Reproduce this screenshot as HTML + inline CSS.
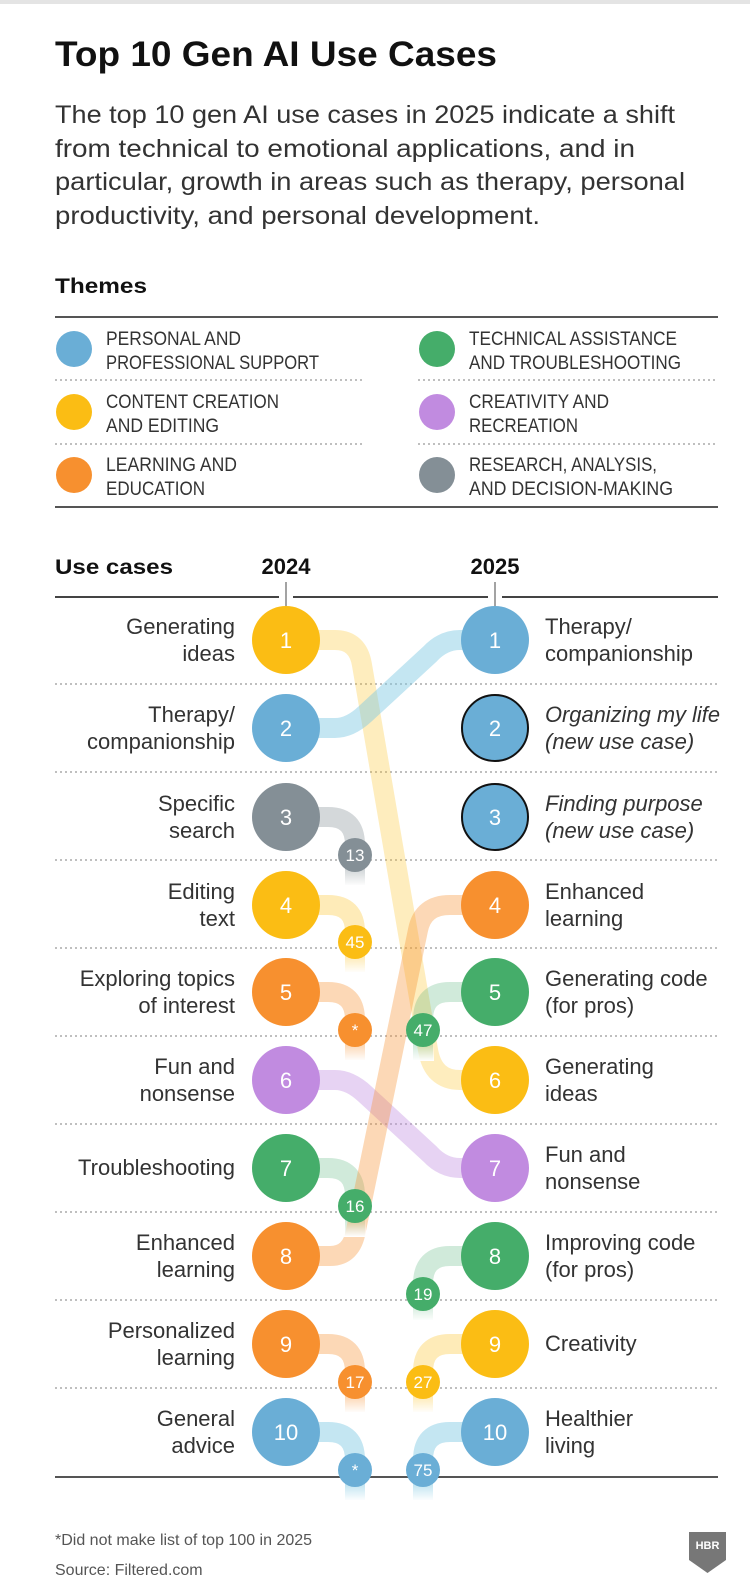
<!DOCTYPE html>
<html><head><meta charset="utf-8"><style>
html,body{margin:0;padding:0;background:#fff;}
svg{display:block;}
text{font-family:"Liberation Sans",sans-serif;}
.lg{font-size:19px;fill:#333;}
.lab{font-size:22px;fill:#333;}
.n{font-size:22px;fill:#fff;text-anchor:middle;}
.s{font-size:17px;fill:#fff;text-anchor:middle;}
</style></head><body>
<svg width="750" height="1582" viewBox="0 0 750 1582" xmlns="http://www.w3.org/2000/svg">
<defs>
<linearGradient id="fade" x1="0" y1="0" x2="0" y2="1"><stop offset="0" stop-color="#fff" stop-opacity="0"/><stop offset="1" stop-color="#fff" stop-opacity="1"/></linearGradient>
</defs>
<rect x="0" y="0" width="750" height="4" fill="#e4e4e4"/>
<text x="55" y="66" font-size="35" font-weight="bold" fill="#111" textLength="442" lengthAdjust="spacingAndGlyphs">Top 10 Gen AI Use Cases</text>
<g font-size="25" fill="#333">
<text x="55" y="123" textLength="620" lengthAdjust="spacingAndGlyphs">The top 10 gen AI use cases in 2025 indicate a shift</text>
<text x="55" y="157" textLength="580" lengthAdjust="spacingAndGlyphs">from technical to emotional applications, and in</text>
<text x="55" y="190" textLength="630" lengthAdjust="spacingAndGlyphs">particular, growth in areas such as therapy, personal</text>
<text x="55" y="224" textLength="485" lengthAdjust="spacingAndGlyphs">productivity, and personal development.</text>
</g>
<text x="55" y="293" font-size="21" font-weight="bold" fill="#111" textLength="92" lengthAdjust="spacingAndGlyphs">Themes</text>
<line x1="55" y1="317" x2="718" y2="317" stroke="#555" stroke-width="2"/>
<line x1="55" y1="507" x2="718" y2="507" stroke="#555" stroke-width="2"/>
<g stroke="#999" stroke-width="1.2" stroke-dasharray="2,3">
<line x1="55" y1="380" x2="362" y2="380"/><line x1="418" y1="380" x2="718" y2="380"/>
<line x1="55" y1="444" x2="362" y2="444"/><line x1="418" y1="444" x2="718" y2="444"/>
</g>
<circle cx="74" cy="349" r="18" fill="#6aaed6"/>
<circle cx="74" cy="412" r="18" fill="#fbbd14"/>
<circle cx="74" cy="475" r="18" fill="#f7902f"/>
<circle cx="437" cy="349" r="18" fill="#45ad6a"/>
<circle cx="437" cy="412" r="18" fill="#c18be0"/>
<circle cx="437" cy="475" r="18" fill="#848f96"/>
<g class="lg">
<text x="106" y="345" textLength="135" lengthAdjust="spacingAndGlyphs">PERSONAL AND</text>
<text x="106" y="369" textLength="213" lengthAdjust="spacingAndGlyphs">PROFESSIONAL SUPPORT</text>
<text x="106" y="408" textLength="173" lengthAdjust="spacingAndGlyphs">CONTENT CREATION</text>
<text x="106" y="432" textLength="113" lengthAdjust="spacingAndGlyphs">AND EDITING</text>
<text x="106" y="471" textLength="131" lengthAdjust="spacingAndGlyphs">LEARNING AND</text>
<text x="106" y="495" textLength="99" lengthAdjust="spacingAndGlyphs">EDUCATION</text>
<text x="469" y="345" textLength="208" lengthAdjust="spacingAndGlyphs">TECHNICAL ASSISTANCE</text>
<text x="469" y="369" textLength="212" lengthAdjust="spacingAndGlyphs">AND TROUBLESHOOTING</text>
<text x="469" y="408" textLength="140" lengthAdjust="spacingAndGlyphs">CREATIVITY AND</text>
<text x="469" y="432" textLength="109" lengthAdjust="spacingAndGlyphs">RECREATION</text>
<text x="469" y="471" textLength="188" lengthAdjust="spacingAndGlyphs">RESEARCH, ANALYSIS,</text>
<text x="469" y="495" textLength="204" lengthAdjust="spacingAndGlyphs">AND DECISION-MAKING</text>
</g>
<text x="55" y="574" font-size="21" font-weight="bold" fill="#111" textLength="118" lengthAdjust="spacingAndGlyphs">Use cases</text>
<text x="286" y="574" font-size="22" font-weight="bold" fill="#111" text-anchor="middle">2024</text>
<text x="495" y="574" font-size="22" font-weight="bold" fill="#111" text-anchor="middle">2025</text>
<g stroke="#444" stroke-width="2">
<line x1="55" y1="597" x2="279" y2="597"/><line x1="293" y1="597" x2="488" y2="597"/><line x1="502" y1="597" x2="718" y2="597"/>
</g>
<g stroke="#666" stroke-width="1.2"><line x1="286" y1="582" x2="286" y2="640"/><line x1="495" y1="582" x2="495" y2="640"/></g>
<g stroke="#999" stroke-width="1.2" stroke-dasharray="2,3">
<line x1="55" y1="684" x2="718" y2="684"/><line x1="55" y1="772" x2="718" y2="772"/><line x1="55" y1="860" x2="718" y2="860"/>
<line x1="55" y1="948" x2="718" y2="948"/><line x1="55" y1="1036" x2="718" y2="1036"/><line x1="55" y1="1124" x2="718" y2="1124"/>
<line x1="55" y1="1212" x2="718" y2="1212"/><line x1="55" y1="1300" x2="718" y2="1300"/><line x1="55" y1="1388" x2="718" y2="1388"/>
</g>
<line x1="55" y1="1477" x2="718" y2="1477" stroke="#555" stroke-width="2"/>
<g fill="none" stroke-width="20" stroke-linecap="butt">
<path d="M286,640 H335 Q358,640 362,665 L428,1050 Q433,1080 460,1080 H495" stroke="#fbbd14" stroke-opacity="0.28"/>
<path d="M286,728 H335 Q350,728 365,714 L430,654 Q443,640 460,640 H495" stroke="#7cc8e2" stroke-opacity="0.45"/>
<path d="M286,817 H328 Q355,817 355,845 V885" stroke="#848f96" stroke-opacity="0.35"/>
<path d="M286,905 H328 Q355,905 355,932 V972" stroke="#fbbd14" stroke-opacity="0.3"/>
<path d="M286,992 H328 Q355,992 355,1020 V1060" stroke="#f7902f" stroke-opacity="0.35"/>
<path d="M286,1080 H335 Q350,1080 365,1094 L430,1154 Q443,1168 460,1168 H495" stroke="#c18be0" stroke-opacity="0.38"/>
<path d="M286,1168 H328 Q355,1168 355,1196 V1236" stroke="#45ad6a" stroke-opacity="0.25"/>
<path d="M286,1256 H330 Q352,1256 356,1230 L418,930 Q423,905 450,905 H495" stroke="#f7902f" stroke-opacity="0.35"/>
<path d="M286,1344 H328 Q355,1344 355,1372 V1412" stroke="#f7902f" stroke-opacity="0.35"/>
<path d="M286,1432 H328 Q355,1432 355,1460 V1500" stroke="#7cc8e2" stroke-opacity="0.45"/>
<path d="M495,992 H450 Q423,992 423,1020 V1060" stroke="#45ad6a" stroke-opacity="0.25"/>
<path d="M495,1256 H450 Q423,1256 423,1284 V1320" stroke="#45ad6a" stroke-opacity="0.25"/>
<path d="M495,1344 H450 Q423,1344 423,1372 V1412" stroke="#fbbd14" stroke-opacity="0.3"/>
<path d="M495,1432 H450 Q423,1432 423,1460 V1500" stroke="#7cc8e2" stroke-opacity="0.45"/>
</g>
<g fill="url(#fade)">
<rect x="344" y="870" width="22" height="16"/><rect x="344" y="957" width="22" height="16"/>
<rect x="344" y="1045" width="22" height="16"/><rect x="412" y="1045" width="22" height="16"/>
<rect x="344" y="1221" width="22" height="16"/><rect x="412" y="1305" width="22" height="16"/>
<rect x="344" y="1397" width="22" height="16"/><rect x="412" y="1397" width="22" height="16"/>
<rect x="344" y="1485" width="22" height="16"/><rect x="412" y="1485" width="22" height="16"/>
</g>
<circle cx="286" cy="640" r="34" fill="#fbbd14"/><text class="n" x="286" y="648">1</text>
<circle cx="286" cy="728" r="34" fill="#6aaed6"/><text class="n" x="286" y="736">2</text>
<circle cx="286" cy="817" r="34" fill="#848f96"/><text class="n" x="286" y="825">3</text>
<circle cx="286" cy="905" r="34" fill="#fbbd14"/><text class="n" x="286" y="913">4</text>
<circle cx="286" cy="992" r="34" fill="#f7902f"/><text class="n" x="286" y="1000">5</text>
<circle cx="286" cy="1080" r="34" fill="#c18be0"/><text class="n" x="286" y="1088">6</text>
<circle cx="286" cy="1168" r="34" fill="#45ad6a"/><text class="n" x="286" y="1176">7</text>
<circle cx="286" cy="1256" r="34" fill="#f7902f"/><text class="n" x="286" y="1264">8</text>
<circle cx="286" cy="1344" r="34" fill="#f7902f"/><text class="n" x="286" y="1352">9</text>
<circle cx="286" cy="1432" r="34" fill="#6aaed6"/><text class="n" x="286" y="1440">10</text>
<circle cx="495" cy="640" r="34" fill="#6aaed6"/><text class="n" x="495" y="648">1</text>
<circle cx="495" cy="728" r="33" fill="#6aaed6" stroke="#111" stroke-width="2"/><text class="n" x="495" y="736">2</text>
<circle cx="495" cy="817" r="33" fill="#6aaed6" stroke="#111" stroke-width="2"/><text class="n" x="495" y="825">3</text>
<circle cx="495" cy="905" r="34" fill="#f7902f"/><text class="n" x="495" y="913">4</text>
<circle cx="495" cy="992" r="34" fill="#45ad6a"/><text class="n" x="495" y="1000">5</text>
<circle cx="495" cy="1080" r="34" fill="#fbbd14"/><text class="n" x="495" y="1088">6</text>
<circle cx="495" cy="1168" r="34" fill="#c18be0"/><text class="n" x="495" y="1176">7</text>
<circle cx="495" cy="1256" r="34" fill="#45ad6a"/><text class="n" x="495" y="1264">8</text>
<circle cx="495" cy="1344" r="34" fill="#fbbd14"/><text class="n" x="495" y="1352">9</text>
<circle cx="495" cy="1432" r="34" fill="#6aaed6"/><text class="n" x="495" y="1440">10</text>
<circle cx="355" cy="855" r="17" fill="#848f96"/><text class="s" x="355" y="861">13</text>
<circle cx="355" cy="942" r="17" fill="#fbbd14"/><text class="s" x="355" y="948">45</text>
<circle cx="355" cy="1030" r="17" fill="#f7902f"/><text class="s" x="355" y="1036">*</text>
<circle cx="423" cy="1030" r="17" fill="#45ad6a"/><text class="s" x="423" y="1036">47</text>
<circle cx="355" cy="1206" r="17" fill="#45ad6a"/><text class="s" x="355" y="1212">16</text>
<circle cx="423" cy="1294" r="17" fill="#45ad6a"/><text class="s" x="423" y="1300">19</text>
<circle cx="355" cy="1382" r="17" fill="#f7902f"/><text class="s" x="355" y="1388">17</text>
<circle cx="423" cy="1382" r="17" fill="#fbbd14"/><text class="s" x="423" y="1388">27</text>
<circle cx="355" cy="1470" r="17" fill="#6aaed6"/><text class="s" x="355" y="1476">*</text>
<circle cx="423" cy="1470" r="17" fill="#6aaed6"/><text class="s" x="423" y="1476">75</text>
<g class="lab" text-anchor="end">
<text x="235" y="634">Generating</text><text x="235" y="661">ideas</text>
<text x="235" y="722">Therapy/</text><text x="235" y="749">companionship</text>
<text x="235" y="811">Specific</text><text x="235" y="838">search</text>
<text x="235" y="899">Editing</text><text x="235" y="926">text</text>
<text x="235" y="986">Exploring topics</text><text x="235" y="1013">of interest</text>
<text x="235" y="1074">Fun and</text><text x="235" y="1101">nonsense</text>
<text x="235" y="1175">Troubleshooting</text>
<text x="235" y="1250">Enhanced</text><text x="235" y="1277">learning</text>
<text x="235" y="1338">Personalized</text><text x="235" y="1365">learning</text>
<text x="235" y="1426">General</text><text x="235" y="1453">advice</text>
</g>
<g class="lab">
<text x="545" y="634">Therapy/</text><text x="545" y="661">companionship</text>
<text x="545" y="722" font-style="italic" textLength="175" lengthAdjust="spacingAndGlyphs">Organizing my life</text><text x="545" y="749" font-style="italic">(new use case)</text>
<text x="545" y="811" font-style="italic">Finding purpose</text><text x="545" y="838" font-style="italic">(new use case)</text>
<text x="545" y="899">Enhanced</text><text x="545" y="926">learning</text>
<text x="545" y="986">Generating code</text><text x="545" y="1013">(for pros)</text>
<text x="545" y="1074">Generating</text><text x="545" y="1101">ideas</text>
<text x="545" y="1162">Fun and</text><text x="545" y="1189">nonsense</text>
<text x="545" y="1250">Improving code</text><text x="545" y="1277">(for pros)</text>
<text x="545" y="1351">Creativity</text>
<text x="545" y="1426">Healthier</text><text x="545" y="1453">living</text>
</g>
<text x="55" y="1545" font-size="16" fill="#555">*Did not make list of top 100 in 2025</text>
<text x="55" y="1575" font-size="16" fill="#555">Source: Filtered.com</text>
<path d="M689,1532 H726 V1560 L707.5,1573 L689,1560 Z" fill="#777"/>
<text x="707.5" y="1549" font-size="11" font-weight="bold" fill="#fff" text-anchor="middle">HBR</text>
</svg>
</body></html>
